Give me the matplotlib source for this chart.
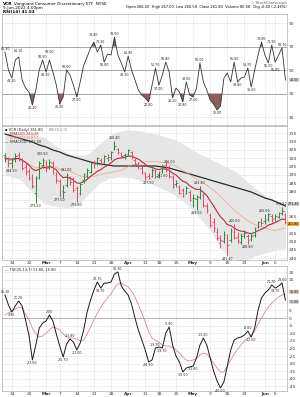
import matplotlib
matplotlib.use("Agg")
import matplotlib.pyplot as plt
import matplotlib.transforms as mtransforms
import numpy as np
import pandas as pd

# ---------------- data ----------------
feb_days = [10, 11, 14, 15, 16, 17, 18, 22, 23, 24, 25, 28]
mar_days = [1, 2, 3, 4, 7, 8, 9, 10, 11, 14, 15, 16, 17, 18, 21, 22, 23, 24, 25, 28, 29, 30, 31]
apr_days = [1, 4, 5, 6, 7, 8, 11, 12, 13, 14, 18, 19, 20, 21, 22, 25, 26, 27, 28, 29]
may_days = [2, 3, 4, 5, 6, 9, 10, 11, 12, 13, 16, 17, 18, 19, 20, 23, 24, 25, 26, 27, 31]
jun_days = [1, 2, 3, 6, 7, 8, 9]
dates = ([f"2022-02-{d:02d}" for d in feb_days] + [f"2022-03-{d:02d}" for d in mar_days]
         + [f"2022-04-{d:02d}" for d in apr_days] + [f"2022-05-{d:02d}" for d in may_days]
         + [f"2022-06-{d:02d}" for d in jun_days])

tick_dates = ["2022-02-14", "2022-02-22", "2022-03-01", "2022-03-07", "2022-03-14", "2022-03-21",
              "2022-03-28", "2022-04-04", "2022-04-11", "2022-04-18", "2022-04-25", "2022-05-02",
              "2022-05-09", "2022-05-16", "2022-05-23", "2022-06-01", "2022-06-06"]
tick_labels = ["14", "22", "Mar", "7", "14", "21", "28", "Apr", "11", "18", "25", "May",
               "9", "16", "23", "Jun", "6"]
month_labels = {"Mar", "Apr", "May", "Jun"}

opens = [302.0, 299.5, 297.0, 299.5, 302.0, 299.0, 295.0, 292.5, 289.0, 279.0,
         289.0, 296.0, 297.5, 295.0, 297.0, 290.0, 286.5, 280.5, 284.0, 288.0,
         288.5, 282.0, 279.0, 287.0, 289.5, 292.0, 297.5, 297.0, 299.0, 298.0,
         300.0, 301.0, 306.0, 305.5, 303.0, 302.0, 302.5, 304.0, 299.0, 296.0,
         294.0, 291.0, 289.5, 289.5, 292.0, 289.0, 292.5, 296.0, 294.5, 289.0,
         284.5, 283.0, 281.0, 279.5, 280.0, 276.5, 275.5, 277.0, 278.0, 271.5,
         266.0, 262.0, 256.0, 249.0, 250.5, 252.0, 251.0, 256.0, 253.0, 250.0,
         254.5, 253.5, 251.5, 254.0, 259.0, 262.0, 262.5, 263.5, 265.5, 264.5,
         265.0, 267.5, 266.5]
highs = [303.5, 301.0, 300.5, 303.0, 303.8, 300.4, 297.0, 294.0, 290.5, 289.5,
         298.5, 300.5, 299.0, 299.5, 298.5, 292.0, 287.5, 284.0, 291.0, 289.5,
         289.0, 283.5, 285.5, 291.5, 294.0, 298.5, 299.0, 301.0, 300.5, 302.0,
         302.5, 304.5, 310.4, 306.0, 304.0, 303.0, 305.8, 304.5, 300.0, 298.0,
         295.5, 292.0, 291.0, 294.0, 293.5, 292.5, 296.5, 297.8, 296.0, 290.0,
         287.0, 284.0, 282.0, 283.5, 281.0, 278.5, 278.0, 283.4, 279.0, 273.0,
         267.5, 264.0, 258.0, 254.0, 256.5, 254.5, 258.0, 260.6, 256.0, 255.5,
         257.0, 254.5, 255.0, 259.0, 262.5, 264.0, 266.6, 267.5, 266.5, 266.5,
         268.0, 270.8, 267.0]
lows = [298.0, 295.0, 294.5, 298.0, 298.6, 293.0, 290.0, 287.0, 282.0, 273.2,
        287.5, 294.5, 292.0, 293.5, 290.5, 285.5, 277.0, 276.0, 283.0, 284.0,
        280.0, 273.8, 278.0, 285.5, 288.5, 291.5, 294.5, 296.0, 296.0, 297.0,
        298.5, 299.0, 305.0, 302.5, 300.5, 299.5, 301.5, 299.5, 295.5, 293.5,
        290.5, 287.0, 287.5, 289.0, 288.5, 288.0, 291.5, 292.0, 288.5, 282.5,
        283.0, 278.5, 277.0, 278.5, 274.5, 271.0, 269.0, 275.5, 271.0, 267.0,
        259.0, 256.0, 251.0, 246.0, 249.0, 241.4, 250.0, 251.5, 249.5, 248.5,
        252.5, 248.6, 250.5, 253.0, 258.0, 259.5, 260.5, 262.5, 262.0, 262.5,
        264.0, 266.0, 260.5]
closes = [300.2, 297.2, 299.0, 301.4, 300.2, 294.2, 291.8, 288.2, 283.4, 288.2,
          297.2, 299.0, 294.2, 297.8, 291.8, 287.0, 278.0, 279.8, 290.0, 285.8,
          281.0, 277.4, 284.6, 290.6, 293.0, 297.8, 296.6, 300.2, 297.2, 301.4,
          300.8, 303.8, 307.4, 303.8, 301.4, 302.0, 305.0, 300.8, 296.6, 295.4,
          291.8, 288.8, 288.2, 293.0, 289.4, 291.8, 295.4, 293.0, 289.4, 283.4,
          285.2, 279.2, 278.0, 282.2, 275.0, 276.2, 277.4, 281.0, 272.0, 269.0,
          260.0, 258.2, 252.2, 251.0, 254.0, 248.0, 257.0, 252.2, 251.0, 253.4,
          255.2, 251.0, 253.4, 258.2, 261.8, 261.2, 263.0, 266.6, 263.6, 265.4,
          267.2, 268.4, 261.8]
sma_long = [314.6, 314.0, 313.4, 312.8, 312.2, 311.6, 311.0, 310.4, 309.8, 308.9,
            308.0, 307.4, 306.8, 305.9, 305.0, 304.4, 303.8, 302.9, 302.0, 301.4,
            300.8, 300.2, 299.6, 299.0, 298.4, 297.8, 297.2, 296.9, 296.6, 296.3,
            296.0, 295.7, 295.4, 295.4, 295.4, 295.4, 295.4, 295.4, 295.4, 295.4,
            295.4, 295.4, 295.4, 295.4, 295.4, 295.1, 294.8, 294.5, 294.2, 293.6,
            293.0, 292.4, 291.8, 291.2, 290.6, 290.0, 289.4, 288.8, 288.2, 287.6,
            287.0, 286.4, 285.8, 285.2, 284.6, 284.0, 283.4, 282.8, 282.2, 281.6,
            281.0, 280.4, 279.8, 278.9, 278.0, 277.1, 276.2, 275.6, 275.0, 274.1,
            273.2, 272.3, 271.4]
bb_upper = [315.8, 315.8, 315.8, 315.8, 315.8, 315.8, 315.2, 315.2, 315.2, 314.6,
            313.4, 312.8, 312.2, 310.4, 308.6, 307.4, 306.2, 304.4, 303.8, 302.6,
            302.0, 302.0, 302.0, 302.0, 302.6, 303.8, 305.6, 307.4, 309.2, 311.0,
            312.2, 314.0, 315.2, 315.8, 316.4, 317.0, 317.0, 317.0, 317.0, 316.4,
            316.4, 315.8, 315.2, 315.2, 314.6, 314.0, 313.4, 312.8, 312.2, 311.6,
            311.0, 309.8, 308.6, 307.4, 306.2, 305.0, 303.8, 302.6, 301.4, 300.8,
            299.6, 298.4, 297.8, 296.6, 295.4, 294.8, 293.6, 292.4, 291.2, 289.4,
            287.6, 285.8, 284.0, 282.2, 281.0, 279.2, 278.0, 276.8, 276.2, 275.0,
            274.4, 273.2, 272.6]
bb_lower = [290.0, 289.4, 288.8, 288.2, 287.6, 286.4, 284.0, 281.6, 279.8, 277.4,
            275.6, 273.8, 272.6, 272.0, 271.4, 271.4, 270.8, 270.8, 270.2, 270.2,
            270.8, 272.0, 273.2, 275.0, 277.4, 279.8, 281.6, 284.0, 285.8, 286.4,
            287.6, 288.2, 288.2, 288.8, 288.8, 288.8, 288.2, 288.2, 287.6, 287.0,
            286.4, 285.8, 285.2, 284.6, 283.4, 282.8, 281.6, 281.0, 279.8, 278.6,
            277.4, 275.6, 274.4, 272.6, 270.8, 268.4, 266.6, 264.2, 261.8, 259.4,
            257.0, 253.4, 249.8, 246.2, 244.4, 242.0, 240.2, 239.6, 239.0, 238.4,
            239.0, 239.6, 240.2, 241.4, 242.0, 242.6, 243.2, 243.8, 244.4, 245.0,
            245.6, 245.6, 246.2]
rsi = [65.3, 50.0, 43.2, 58.5, 61.1, 41.5, 34.7, 31.3, 20.2, 33.0,
       50.0, 58.5, 48.3, 58.5, 48.3, 37.2, 21.0, 27.0, 50.0, 45.7,
       37.2, 27.0, 40.0, 54.0, 61.1, 68.7, 73.8, 65.3, 71.3, 56.8,
       63.6, 62.8, 78.0, 62.8, 56.0, 48.3, 61.9, 50.0, 41.5, 33.0,
       28.7, 26.2, 22.8, 37.0, 51.7, 37.0, 45.7, 56.8, 48.3, 26.2,
       34.7, 31.3, 22.8, 39.8, 28.7, 27.0, 34.7, 56.0, 39.8, 33.0,
       24.5, 21.0, 16.0, 19.4, 43.0, 47.4, 39.8, 56.8, 39.8, 43.2,
       44.0, 51.7, 35.5, 50.0, 62.8, 73.8, 62.8, 56.0, 71.3, 56.8,
       62.8, 68.7, 41.5]
tsi = [15.1, 8.6, 3.9, 7.9, 11.2, 7.9, -1.3, -11.2, -27.6, -17.8,
       -6.6, -3.3, -2.0, 2.0, -2.0, -10.5, -18.4, -25.7, -17.1, -13.8,
       -15.8, -21.0, -16.4, -7.9, 3.9, 11.8, 18.4, 23.7, 19.7, 23.0,
       23.0, 23.7, 28.9, 30.3, 21.0, 17.8, 15.1, 9.2, 0.0, -7.9,
       -14.5, -21.0, -28.9, -27.6, -19.7, -19.1, -19.7, -9.9, -5.9, -17.8,
       -25.0, -28.9, -35.5, -32.9, -32.2, -31.6, -26.3, -17.8, -13.2, -17.8,
       -26.3, -34.9, -41.4, -46.0, -42.1, -31.6, -21.0, -14.5, -13.2, -12.5,
       -11.2, -8.6, -12.5, -6.6, 5.3, 13.2, 16.4, 18.4, 21.7, 19.7,
       21.0, 23.0, 11.8]
tsi_signal = [2.0, 3.3, 4.6, 5.9, 7.2, 6.6, 2.6, -1.3, -6.6, -10.5,
              -12.5, -11.8, -9.9, -7.9, -5.9, -6.6, -7.9, -10.5, -12.5, -13.2,
              -13.2, -13.8, -15.1, -14.5, -10.5, -5.9, -1.3, 3.3, 7.2, 10.5,
              13.2, 15.8, 19.7, 22.4, 23.0, 21.7, 20.4, 17.8, 13.8, 8.6,
              3.3, -2.6, -9.2, -13.2, -14.5, -15.8, -17.8, -18.4, -18.4, -19.7,
              -21.0, -23.0, -25.7, -27.6, -28.3, -27.6, -26.3, -24.3, -23.0, -23.7,
              -26.3, -29.6, -32.9, -35.5, -35.5, -31.6, -27.6, -23.7, -20.4, -17.8,
              -15.1, -13.2, -11.8, -8.6, -3.9, 0.0, 3.9, 7.2, 9.9, 11.8,
              13.8, 15.1, 15.8]

rsi_peaks = [0, 4, 11, 13, 18, 26, 28, 32, 36, 44, 47, 53, 57, 67, 71, 75, 78, 81]
rsi_troughs = [2, 8, 12, 16, 21, 29, 35, 42, 45, 49, 52, 55, 62, 68, 72, 77, 79]
price_peaks = [11, 18, 32, 48, 57, 67, 76, 81]
price_troughs = [2, 9, 16, 21, 42, 46, 56, 65, 71]
tsi_peaks = [0, 4, 13, 19, 27, 33, 44, 48, 58, 71, 78, 81]
tsi_troughs = [2, 8, 17, 21, 28, 42, 46, 52, 55, 63, 72, 79]

# ---------------- styling ----------------
plt.rcParams["font.family"] = ["DejaVu Sans"]
GRID = "#e3e3e3"
SPINE = "#9a9a9a"
UP = "#2f8a3e"
DOWN = "#e0506a"
FS = 3.2
LFS = 2.3

x = np.arange(len(dates))
closes_a = np.array(closes)
rsi_a = np.array(rsi)
tick_pos = [dates.index(d) for d in tick_dates]

fig = plt.figure(figsize=(3.0, 3.97), dpi=100)
L, W = 0.0067, 0.95
ax1 = fig.add_axes([L, 1 - 125 / 397, W, 111 / 397])
ax2 = fig.add_axes([L, 1 - 260 / 397, W, 134 / 397])
ax3 = fig.add_axes([L, 1 - 391 / 397, W, 125 / 397])

xlim = (-0.88, 82.46)
for ax in (ax1, ax2, ax3):
    ax.set_xlim(*xlim)
    ax.yaxis.tick_right()
    ax.tick_params(axis="both", length=0, labelsize=FS, pad=1, colors="#333333")
    ax.set_xticks(tick_pos)
    ax.grid(True, color=GRID, lw=0.4)
    ax.set_axisbelow(True)
    for s in ax.spines.values():
        s.set_color(SPINE)
        s.set_linewidth(0.4)


def set_date_labels(ax, show):
    if show:
        ax.set_xticklabels(tick_labels)
        for t in ax.get_xticklabels():
            if t.get_text() in month_labels:
                t.set_fontweight("bold")
    else:
        ax.set_xticklabels([])


set_date_labels(ax1, False)
set_date_labels(ax2, True)
set_date_labels(ax3, True)
ax2.tick_params(axis="x", pad=0.6)
ax3.tick_params(axis="x", pad=0.6)


def set_yticks_clear(ax, ticks, fmt, box_centers, gap):
    # right-axis labels; a label hidden under a value box is left blank
    ax.set_yticks(ticks)
    labs = []
    for t in ticks:
        hidden = any(abs(t - c) < gap for c in box_centers)
        labs.append("" if hidden else fmt(t))
    ax.set_yticklabels(labs)


def label_points(ax, idxs, vals, above, fs=LFS, color="#222222", pad=1.0, extra=None):
    extra = extra or {}
    for i in idxs:
        p = pad + extra.get(i, 0)
        ax.annotate(f"{vals[i]:.2f}", (x[i], vals[i]),
                    xytext=(0, p if above else -p), textcoords="offset points",
                    ha="center", va="bottom" if above else "top",
                    fontsize=fs, color=color)


def value_box(ax, val, face, va="center", txtcolor="#111111"):
    tr = mtransforms.blended_transform_factory(fig.transFigure, ax.transData)
    ax.text(0.997, val, f"{val:.2f}", transform=tr, ha="right", va=va,
            fontsize=2.3, color=txtcolor, zorder=10,
            bbox=dict(boxstyle="square,pad=0.12", fc=face, ec="none"))


# ---------------- header ----------------
fig.text(0.01, 0.996, "VCR", fontsize=3.0, fontweight="bold", va="top")
fig.text(0.045, 0.996, "Vanguard Consumer Discretionary ETF  NYSE", fontsize=3.0, va="top")
fig.text(0.01, 0.986, "9-Jun-2022 4:00pm", fontsize=3.0, va="top")
fig.text(0.01, 0.976, "RSI(14) 41.53", fontsize=3.0, fontweight="bold", va="top")
fig.text(0.955, 0.998, "© StockCharts.com", fontsize=2.6, va="top", ha="right", color="#555555")
fig.text(0.955, 0.987,
         "Open 266.50  High 267.00  Low 260.50  Close 261.80  Volume 80.5K  Chg -6.60 (-2.46%)",
         fontsize=2.6, va="top", ha="right")

# ---------------- RSI panel ----------------
ax1.set_ylim(3.2, 97.7)
set_yticks_clear(ax1, [10, 30, 50, 70, 90], lambda t: f"{t:d}", [rsi[-1]], 4.0)
for lvl in (70, 50, 30):
    ax1.axhline(lvl, color="#8c8c8c", lw=0.5, zorder=1)
ax1.fill_between(x, rsi_a, 70, where=rsi_a >= 70, interpolate=True, color="#5d6b5d", lw=0, zorder=2)
ax1.fill_between(x, rsi_a, 30, where=rsi_a <= 30, interpolate=True, color="#8f5d5a", lw=0, zorder=2)
ax1.plot(x, rsi_a, color="#333333", lw=0.6, zorder=3)
label_points(ax1, rsi_peaks, rsi, True, extra={13: 3.5, 26: 2.5, 4: 2.0})
label_points(ax1, rsi_troughs, rsi, False, extra={79: 3.5})
value_box(ax1, rsi[-1], "#d9d9d9")

# ---------------- price panel ----------------
ax2.set_ylim(239.0, 319.4)
set_yticks_clear(ax2, list(range(240, 320, 5)), lambda t: f"{t:d}",
                 [sma_long[-1] + 1.4, closes[-1] - 1.4], 3.2)
ax2.fill_between(x, bb_lower, bb_upper, color="#e6e6e6", lw=0, zorder=1)
ema10 = pd.Series(closes).ewm(span=10, adjust=False).mean()
sma20 = pd.Series(closes).rolling(20, min_periods=1).mean()
ax2.plot(x, sma_long, color="#2b2b2b", lw=0.9, zorder=2)
ax2.plot(x, sma20, color="#f0a878", lw=0.5, zorder=2)
ax2.plot(x, ema10, color="#c0283c", lw=0.8, zorder=2)
prev = np.concatenate([[closes[0]], closes_a[:-1]])
cols = [UP if c >= p else DOWN for c, p in zip(closes_a, prev)]
ax2.vlines(x, lows, highs, colors=cols, lw=0.75, zorder=3)
ax2.hlines(opens, x - 0.45, x, colors=cols, lw=0.6, zorder=3)
ax2.hlines(closes, x, x + 0.45, colors=cols, lw=0.6, zorder=3)
label_points(ax2, price_peaks, highs, True)
label_points(ax2, price_troughs, lows, False)
value_box(ax2, sma_long[-1], "#d0d0d0", va="bottom")
value_box(ax2, closes[-1], "#f5a623", va="top")
ax2.text(0.012, 0.985, "▪ VCR (Daily) 261.80", transform=ax2.transAxes, fontsize=2.6,
         va="top", color="#222222")
ax2.text(0.012, 0.955, "— EMA(10) 263.28", transform=ax2.transAxes, fontsize=2.6,
         va="top", color="#c0283c")
ax2.text(0.012, 0.925, "— SMA(20) 258.51", transform=ax2.transAxes, fontsize=2.6,
         va="top", color="#e8905a")
ax2.text(0.012, 0.895, "— SMA(200) 271.40", transform=ax2.transAxes, fontsize=2.6,
         va="top", color="#2b2b2b")
ax2.text(0.165, 0.985, "BB(20,2.0)", transform=ax2.transAxes, fontsize=2.6,
         va="top", color="#888888")

# ---------------- TSI panel ----------------
ax3.set_ylim(-48.0, 34.2)
set_yticks_clear(ax3, list(range(-45, 35, 5)), lambda t: f"{t:d}",
                 [tsi[-1] - 1.5, tsi_signal[-1] + 1.5], 3.3)
ax3.axhline(0, color="#9a9a9a", lw=0.5, zorder=1)
ax3.plot(x, tsi_signal, color="#e08888", lw=0.6, zorder=2)
ax3.plot(x, tsi, color="#1a1a1a", lw=0.7, zorder=3)
label_points(ax3, tsi_peaks, tsi, True)
label_points(ax3, tsi_troughs, tsi, False)
value_box(ax3, tsi[-1], "#d9d9d9", va="top")
value_box(ax3, tsi_signal[-1], "#f2c4c4", va="bottom")
ax3.text(0.012, 0.985, "— TSI(25,13,7) 11.80, 15.80", transform=ax3.transAxes,
         fontsize=2.6, va="top", color="#222222")

fig.savefig("out.png", dpi=100)
